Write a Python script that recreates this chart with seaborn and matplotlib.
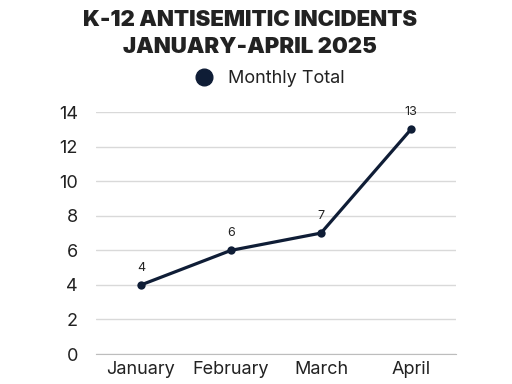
import matplotlib
matplotlib.use("Agg")
import matplotlib.pyplot as plt
import seaborn as sns
import pandas as pd

# data
months = ["January", "February", "March", "April"]
incidents = [4, 6, 7, 13]
y_ticks = [0, 2, 4, 6, 8, 10, 12, 14]

df = pd.DataFrame({"Month": months, "Monthly Total": incidents})

sns.set_style("white")
plt.rcParams["font.family"] = ["Inter", "DejaVu Sans"]

navy = "#0f1d36"

fig = plt.figure(figsize=(5.12, 3.84), dpi=100)
ax = fig.add_axes([0.1875, 0.078, 0.703, 0.63])

sns.lineplot(data=df, x="Month", y="Monthly Total", ax=ax, color=navy,
             linewidth=2.3, marker="o", markersize=6, markeredgewidth=0,
             sort=False)

for i, v in enumerate(incidents):
    ax.annotate(str(v), (i, v), xytext=(0, 8), textcoords="offset points",
                ha="center", va="bottom", fontsize=9, color="#222222")

ax.set_xlim(-0.5, 3.5)
ax.set_ylim(0, 14)
ax.set_yticks(y_ticks)
ax.set_xlabel("")
ax.set_ylabel("")
ax.tick_params(axis="both", length=0, labelsize=13, colors="#222222")
ax.tick_params(axis="y", pad=13)
ax.tick_params(axis="x", pad=5)
ax.yaxis.grid(True, color="#d9d9d9", linewidth=1)
ax.set_axisbelow(True)
for s in ["top", "right", "left"]:
    ax.spines[s].set_visible(False)
ax.spines["bottom"].set_color("#bdbdbd")

fig.text(0.488, 0.975, "K-12 ANTISEMITIC INCIDENTS\nJANUARY-APRIL 2025",
         ha="center", va="top", fontsize=16, fontweight="black",
         color="#222222", linespacing=1.45)

ax.legend([plt.Line2D([], [], marker="o", color=navy, linestyle="",
                      markersize=12)],
          ["Monthly Total"], loc="lower center", bbox_to_anchor=(0.47, 1.035),
          frameon=False, fontsize=13, handletextpad=0.3,
          labelcolor="#222222")

fig.savefig("out.png", dpi=100)
